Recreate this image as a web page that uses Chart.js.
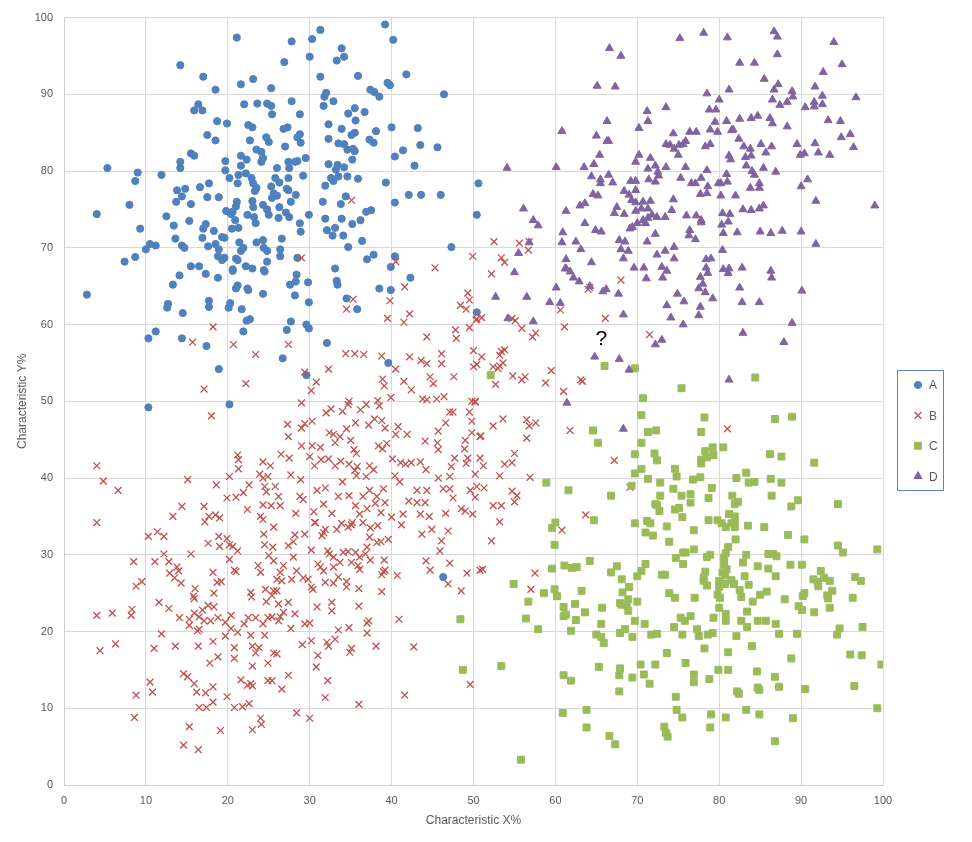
<!DOCTYPE html>
<html>
<head>
<meta charset="utf-8">
<title>Characteristic scatter</title>
<script src="https://cdn.jsdelivr.net/npm/chart.js@4.4.0/dist/chart.umd.min.js"></script>
<style>
  html, body { margin: 0; padding: 0; background: #fff; }
  #chart { display: block; }
</style>
</head>
<body>
<canvas id="chart" width="972" height="842"></canvas>
<script>
// values, [x%, y%]
var seriesNames = ['A', 'B', 'C', 'D'];
var xTicks = [0, 10, 20, 30, 40, 50, 60, 70, 80, 90, 100];
var yTicks = [0, 10, 20, 30, 40, 50, 60, 70, 80, 90, 100];
var questionMark = [65.6, 58.1];

var seriesA = [
  [21.1,97.4],[14.2,93.8],[17.0,92.3],[21.6,91.3],[23.1,92.0],[18.5,90.6],[25.3,90.8],[16.4,88.7],[15.9,87.9],[16.9,87.9],
  [22.0,88.7],[23.6,88.8],[24.8,88.8],[25.3,88.5],[25.4,87.4],[18.7,86.5],[19.9,86.2],[22.5,86.0],[23.0,85.7],[17.5,84.7],
  [18.5,84.0],[22.7,84.0],[24.7,84.4],[25.0,83.8],[15.5,82.3],[15.9,82.0],[23.5,82.8],[24.1,82.5],[24.3,81.7],[24.1,81.2],
  [21.6,82.0],[22.3,81.5],[21.6,80.7],[19.7,81.3],[14.2,81.2],[14.2,80.4],[5.3,80.4],[9.0,79.8],[8.7,78.7],[11.9,79.5],
  [19.7,80.1],[20.2,79.1],[21.3,79.5],[22.2,79.7],[22.9,79.1],[23.1,78.4],[23.5,77.8],[23.3,77.4],[25.3,78.0],[21.2,78.4],
  [17.7,78.4],[16.6,77.9],[13.8,77.5],[14.8,77.7],[14.4,76.7],[13.7,76.0],[15.5,75.7],[17.5,76.6],[18.9,76.6],[21.1,76.0],
  [21.0,75.4],[23.0,76.1],[23.1,75.3],[24.3,75.6],[8.0,75.6],[4.0,74.4],[19.8,74.8],[20.4,74.4],[20.6,74.7],[22.4,74.3],
  [23.2,74.0],[23.4,73.2],[24.8,75.0],[25.0,74.3],[12.5,74.1],[13.4,72.9],[15.3,73.5],[17.3,73.1],[17.0,72.5],[20.9,73.6],
  [18.3,72.2],[20.5,72.5],[21.3,72.6],[9.3,72.5],[19.3,71.4],[19.6,71.3],[16.9,71.3],[13.6,71.2],[10.5,70.5],[11.2,70.3],
  [10.0,69.8],[14.4,70.3],[14.7,70.0],[17.6,70.2],[18.5,70.5],[18.9,69.8],[21.4,70.7],[21.9,70.0],[21.6,69.6],[23.5,70.7],
  [24.3,71.0],[24.4,70.0],[24.8,69.6],[7.4,68.2],[8.7,68.8],[18.8,68.9],[19.3,68.4],[19.6,68.7],[21.0,68.6],[21.2,68.4],
  [24.8,68.2],[15.5,67.6],[16.5,67.6],[20.6,67.2],[22.2,67.6],[23.0,67.3],[24.4,67.1],
  [39.2,99.1],[31.3,98.4],[27.8,96.9],[30.3,97.2],[40.2,97.1],[33.9,96.0],[34.2,94.9],[33.3,94.4],[30.0,94.9],[26.9,94.2],
  [31.3,92.3],[35.9,92.4],[41.8,92.6],[39.5,91.5],[39.8,91.2],[37.4,90.6],[37.9,90.3],[38.5,89.7],[46.4,90.0],[32.0,90.2],
  [31.8,89.7],[31.7,88.5],[32.9,89.1],[27.8,89.1],[28.8,87.4],[34.7,87.5],[35.5,88.2],[36.7,87.7],[35.6,86.6],[32.3,86.1],
  [33.9,85.5],[26.8,85.5],[27.3,85.7],[28.8,84.8],[28.5,84.4],[28.9,83.7],[35.1,84.7],[35.5,85.0],[38.1,85.2],[40.0,85.7],
  [43.2,85.6],[32.3,84.2],[37.3,84.1],[37.8,83.7],[33.5,83.6],[34.2,83.5],[34.6,82.8],[35.3,82.9],[35.5,82.6],[27.0,83.2],
  [43.5,83.4],[45.6,83.1],[41.4,82.7],[40.4,81.9],[42.8,80.7],[29.5,81.7],[27.4,81.2],[28.2,81.2],[28.5,81.3],[27.5,80.4],
  [26.0,80.4],[32.3,80.9],[33.4,80.8],[33.2,80.2],[34.2,80.5],[35.2,81.5],[25.8,79.1],[26.3,78.5],[27.4,79.1],[29.2,79.4],
  [32.6,79.1],[32.9,78.7],[33.5,79.3],[34.6,79.3],[35.9,79.0],[31.9,78.1],[39.3,78.5],[50.6,78.4],[25.6,77.1],[26.0,76.8],
  [25.4,76.5],[27.2,77.7],[27.4,77.5],[28.3,76.9],[34.4,76.7],[42.1,76.9],[43.6,76.9],[46.0,76.9],[27.7,76.0],[31.6,76.0],
  [33.8,75.7],[40.4,75.9],[26.3,75.3],[27.1,74.6],[27.5,74.0],[26.2,73.9],[29.9,74.3],[36.9,74.7],[37.5,74.9],[50.4,74.3],
  [31.9,73.8],[33.9,73.8],[36.2,73.6],[35.2,73.1],[28.8,73.2],[28.9,72.1],[32.1,72.3],[33.1,72.6],[32.8,71.6],[34.1,71.6],
  [26.6,71.2],[36.4,70.9],[34.7,70.1],[47.3,70.1],[26.4,69.8],[26.4,68.9],[28.5,68.7],[37.0,68.5],[37.8,69.1],[40.4,68.9],
  [39.9,67.5],
  [14.1,66.4],[17.3,66.6],[18.8,66.1],[20.6,67.0],[24.5,66.9],[13.3,65.2],[2.8,63.9],[21.2,65.1],[21.0,64.7],[22.4,64.7],
  [22.5,64.5],[24.3,64.0],[17.7,63.1],[17.7,62.3],[12.7,62.7],[12.6,62.2],[20.3,62.8],[20.1,62.2],[21.7,62.0],[14.5,61.5],
  [22.3,60.5],[22.7,60.7],[21.9,59.1],[11.2,59.1],[10.3,58.2],[14.4,58.2],[17.4,57.2],[18.9,54.2],[10.3,49.2],[20.2,49.6],
  [28.4,66.5],[27.6,65.2],[28.3,65.6],[29.8,65.5],[28.2,63.8],[29.9,62.9],[33.1,67.3],[33.3,65.7],[33.4,65.2],[42.3,66.1],
  [38.5,64.7],[39.9,64.5],[34.5,63.4],[35.8,62.0],[27.7,60.4],[27.2,59.3],[29.6,60.0],[29.9,59.5],[32.1,57.6],[26.7,55.6],
  [39.6,55.0],[29.6,53.4],[50.4,61.6],[46.3,27.1]
];

var seriesB = [
  [35.1,76.2],[29.0,68.7],[40.5,68.2],[45.3,67.4],[49.9,68.9],[52.5,70.8],[55.6,70.6],[56.7,69.7],[56.8,70.8],[53.4,68.7],
  [53.8,68.1],
  [18.2,59.7],[15.7,57.7],[20.7,57.4],[23.4,56.1],[17.1,51.6],[22.2,52.3],[18.0,48.1],[21.2,43.0],[21.3,42.4],[21.3,41.2],
  [24.3,42.1],[25.2,41.6],[4.0,41.6],[4.8,39.6],[6.6,38.4],[15.1,39.8],[20.2,40.2],[18.6,39.1],[23.9,40.5],[24.3,40.0],
  [24.9,40.2],[22.6,39.1],[24.5,38.9],[24.7,38.2],[21.9,38.1],[19.9,37.4],[21.0,37.5],[14.4,36.3],[17.1,36.3],[22.4,35.9],
  [24.3,36.5],[25.3,36.4],[13.3,35.0],[4.0,34.2],[17.7,35.0],[18.5,35.2],[19.0,34.8],[17.2,34.3],[24.0,35.0],[24.3,34.6],
  [41.6,64.9],[39.8,63.1],[35.3,63.3],[34.5,62.0],[42.2,61.4],[41.5,60.3],[39.5,60.8],[49.3,64.1],[49.5,63.2],[48.4,62.5],
  [49.1,62.0],[50.3,60.6],[49.5,59.6],[47.8,59.3],[47.9,58.2],[44.3,58.4],[27.4,57.4],[34.4,56.2],[35.5,56.2],[36.6,56.1],
  [38.8,55.9],[42.2,55.8],[43.6,55.3],[44.3,54.9],[46.1,56.2],[46.1,54.9],[50.0,56.6],[50.0,54.5],[32.3,54.2],[29.4,53.8],
  [30.8,52.5],[30.2,51.4],[40.5,54.2],[38.9,52.9],[39.1,52.0],[41.5,52.6],[42.4,51.5],[44.7,53.2],[45.1,52.3],[47.6,53.2],
  [39.9,50.5],[43.8,50.3],[44.3,50.2],[45.5,50.3],[46.4,50.6],[49.8,50.0],[50.2,50.0],[29.0,49.8],[34.8,50.0],[34.7,49.6],
  [36.2,48.9],[36.9,49.6],[38.3,50.1],[38.5,49.4],[37.9,47.7],[38.8,47.5],[39.2,46.5],[32.6,49.0],[32.0,48.5],[34.0,48.7],
  [30.3,47.4],[29.4,47.1],[27.3,47.0],[29.0,46.5],[27.4,45.4],[35.6,47.2],[37.2,46.9],[34.5,46.4],[32.4,45.9],[32.9,45.7],
  [33.7,45.4],[35.0,44.9],[33.1,44.6],[40.8,46.7],[40.5,45.7],[41.9,45.7],[47.1,48.6],[47.5,48.6],[49.5,48.6],[49.8,47.4],
  [46.6,47.2],[45.7,46.1],[49.8,45.9],[50.9,45.5],[49.0,44.9],[44.1,44.8],[45.6,44.6],[45.7,43.7],[30.3,44.2],[31.3,44.0],
  [29.0,44.2],[30.0,42.8],[26.5,43.1],[27.5,42.6],[35.4,43.7],[35.7,43.2],[38.4,44.2],[38.9,43.8],[39.4,44.5],[48.9,43.8],
  [47.7,42.6],[49.3,42.6],[47.3,41.5],[49.1,41.9],[31.4,42.4],[32.3,42.5],[33.1,41.6],[33.8,42.2],[34.8,41.8],[35.8,41.5],
  [37.3,41.6],[37.8,41.1],[40.1,42.5],[41.1,42.0],[41.7,41.8],[42.4,42.0],[43.5,42.1],[30.6,41.6],[44.2,41.1],[45.7,40.0],
  [47.1,40.2],[50.2,40.5],[27.7,40.4],[28.9,39.8],[34.0,39.5],[35.7,40.3],[36.9,40.2],[35.5,41.0],[40.4,40.3],[41.0,39.5],
  [25.8,38.9],[26.2,37.6],[28.8,37.6],[29.2,37.2],[30.9,38.4],[31.9,38.7],[33.5,37.6],[34.8,37.7],[36.5,37.6],[37.3,38.4],
  [38.2,37.6],[39.0,38.6],[43.1,38.4],[44.3,38.4],[42.1,37.0],[43.1,36.8],[44.1,36.8],[46.3,38.6],[47.1,38.6],[47.5,37.4],
  [49.6,38.4],[26.4,36.4],[28.3,35.4],[30.5,35.6],[31.7,36.6],[32.7,35.4],[35.6,36.4],[36.1,35.3],[37.0,36.0],[38.0,36.7],
  [38.7,35.5],[39.2,36.8],[40.0,34.9],[41.4,35.3],[43.5,35.3],[44.6,35.0],[46.6,35.4],[48.5,36.0],[49.0,35.7],[49.9,35.3],
  [30.7,34.2],[35.2,34.2],
  [52.2,66.6],[68.0,65.8],[64.2,64.8],[64.0,64.6],[60.6,61.9],[66.1,60.8],[61.1,59.7],[51.0,60.9],[50.4,60.7],[55.1,60.5],
  [54.7,60.8],[55.9,59.5],[57.6,58.9],[57.2,58.4],[71.5,58.7],[51.0,55.8],[50.4,54.8],[53.4,56.5],[53.8,56.7],[53.2,56.0],
  [53.6,55.0],[52.4,54.5],[53.0,54.3],[53.2,54.6],[52.7,52.2],[54.8,53.3],[55.9,52.8],[56.3,53.2],[59.5,54.0],[58.8,52.4],
  [63.1,52.8],[63.3,52.6],[61.0,51.3],[50.2,49.9],[53.6,47.7],[52.4,46.8],[50.8,45.4],[56.5,47.6],[56.8,46.8],[57.6,47.2],
  [56.5,45.2],[61.8,46.2],[50.8,42.6],[51.2,41.6],[55.0,43.2],[53.8,41.8],[54.7,42.0],[67.2,42.3],[53.2,40.3],[56.9,40.1],
  [69.1,38.8],[50.4,38.9],[51.3,38.7],[50.2,37.5],[54.7,38.3],[55.3,37.7],[55.0,36.9],[52.4,36.4],[53.4,36.4],[53.2,34.3],
  [63.7,35.2],[81.0,46.4],
  [10.3,32.4],[11.4,33.0],[12.2,32.4],[18.9,32.4],[19.9,32.1],[19.0,31.1],[20.2,31.3],[20.6,31.1],[21.2,30.5],[17.6,31.5],
  [24.4,32.7],[24.5,31.3],[25.0,29.9],[8.5,29.1],[11.1,29.1],[12.2,30.1],[12.8,29.1],[15.5,30.1],[20.2,29.4],[13.8,28.4],
  [14.0,27.9],[12.9,27.6],[13.5,27.0],[14.3,26.3],[18.2,27.7],[20.8,28.0],[21.0,27.8],[23.7,28.6],[24.0,27.7],[9.5,26.5],
  [8.8,25.9],[18.7,26.4],[19.2,26.5],[18.3,25.0],[16.0,25.6],[15.8,24.6],[15.9,24.3],[22.8,25.1],[22.9,24.5],[24.6,25.5],
  [24.7,23.9],[11.6,23.8],[12.8,23.0],[4.0,22.1],[5.9,22.4],[8.3,22.9],[8.2,22.1],[16.9,22.8],[17.6,23.4],[18.3,23.2],
  [14.1,21.8],[15.3,21.6],[15.9,22.4],[16.5,21.9],[17.1,21.4],[17.9,21.4],[18.8,21.8],[20.4,22.1],[19.7,21.2],[20.4,20.4],
  [21.2,19.9],[22.5,21.8],[23.4,21.8],[22.0,21.0],[22.8,19.5],[24.3,21.0],[24.9,21.8],[24.5,19.5],[15.3,20.8],[16.3,20.1],
  [16.5,20.3],[11.9,19.7],[4.4,17.5],[6.3,18.4],[11.0,17.8],[13.6,18.1],[16.4,18.1],[18.2,18.7],[19.7,19.4],[20.8,17.9],
  [20.8,16.5],[23.0,18.1],[23.4,17.2],[23.8,17.9],[23.0,15.5],[24.9,15.9],[17.8,15.9],[18.8,16.7],[14.6,14.5],[15.1,14.1],
  [15.9,13.2],[16.2,12.1],[17.3,12.0],[18.2,12.8],[21.6,13.7],[22.4,13.0],[22.8,13.2],[23.0,12.9],[24.9,13.6],[10.5,13.4],
  [10.8,12.1],[8.8,11.7],[18.2,10.8],[19.9,11.5],[16.5,10.1],[17.4,10.1],[20.8,10.1],[21.8,10.2],[22.6,10.6],[8.6,8.8],
  [15.3,7.6],[19.1,7.1],[23.0,7.2],[24.0,8.7],[24.1,7.9],[14.6,5.2],[16.4,4.6],
  [25.6,33.6],[30.6,34.2],[31.9,33.3],[31.5,32.5],[31.7,32.9],[33.3,33.3],[33.9,34.1],[34.7,33.6],[35.1,33.9],[28.2,32.6],
  [28.0,31.7],[29.4,32.7],[27.4,31.2],[28.0,29.7],[36.5,34.2],[37.4,33.5],[38.3,33.8],[37.3,32.3],[38.2,31.6],[38.7,31.7],
  [39.6,32.0],[41.2,33.9],[37.0,31.0],[25.5,31.0],[30.2,30.6],[32.2,30.5],[32.4,30.1],[32.9,29.7],[34.1,30.3],[34.7,30.4],
  [35.6,30.3],[36.8,30.1],[37.4,29.3],[36.1,29.7],[39.1,29.3],[43.7,32.7],[44.9,33.3],[46.9,33.1],[46.1,31.8],[45.9,30.5],
  [44.2,29.2],[44.7,28.0],[47.1,28.9],[49.2,27.6],[50.8,28.0],[46.9,26.2],[48.5,25.3],[40.7,27.3],[39.0,27.8],[39.2,28.0],
  [38.8,27.4],[25.6,29.2],[26.8,28.6],[26.4,27.7],[26.0,26.8],[26.6,26.6],[28.4,27.9],[29.2,27.0],[29.8,26.8],[27.8,26.8],
  [31.0,28.8],[31.3,28.4],[31.7,27.9],[32.9,28.4],[33.7,29.0],[35.1,29.0],[35.9,28.6],[36.1,28.1],[30.4,25.5],[30.2,25.8],
  [31.9,26.4],[32.9,26.3],[33.5,27.1],[34.5,26.5],[34.5,25.8],[36.0,25.6],[38.8,25.2],[25.6,25.3],[26.0,25.3],[25.4,24.7],
  [26.2,23.6],[27.4,23.8],[26.8,22.5],[28.2,22.3],[25.4,21.9],[26.4,21.9],[26.2,21.4],[30.9,23.2],[32.7,23.8],[32.7,22.7],
  [36.0,23.3],[27.7,20.4],[29.4,21.0],[30.0,21.1],[33.5,20.2],[34.8,20.5],[37.0,21.1],[37.2,21.4],[37.0,19.8],[40.9,21.6],
  [25.6,17.2],[26.0,17.1],[29.1,18.3],[30.2,18.8],[32.1,18.6],[32.3,18.1],[33.1,19.0],[31.0,16.9],[30.8,15.4],[35.1,17.8],
  [34.9,17.3],[38.1,18.1],[42.7,18.0],[27.4,14.3],[25.4,13.6],[26.6,12.5],[32.2,13.6],[31.9,11.4],[36.0,10.5],[41.6,11.7],
  [49.6,13.1],[28.4,9.4],[30.0,8.7],
  [60.8,33.2],[52.2,31.8],[51.1,28.1],[57.5,27.6],[57.0,25.5]
];

var seriesC = [
  [52.1,53.4],[66.0,54.6],[69.7,54.3],[75.4,51.7],[70.7,50.4],[70.5,48.2],[64.6,46.2],[71.3,46.0],[72.3,46.2],[65.2,44.6],
  [70.5,44.6],[69.7,43.1],[72.1,43.2],[72.4,42.3],[70.5,41.2],[69.7,40.6],[71.3,39.9],[74.6,41.2],[74.8,40.2],[58.9,39.4],
  [61.6,38.4],[66.8,37.7],[69.3,39.0],[72.8,39.4],[72.8,37.7],[72.2,36.6],[72.4,36.5],[72.7,35.7],[74.4,38.6],[75.4,37.7],
  [74.6,35.9],[75.1,36.1],[60.0,34.2],[64.7,34.5],[69.7,34.1],[71.2,34.4],[71.6,34.1],
  [84.4,53.1],[78.2,47.9],[77.8,46.0],[86.8,47.7],[88.9,48.0],[79.2,44.0],[80.5,44.0],[78.3,43.5],[78.5,42.7],[79.3,43.0],
  [77.8,42.4],[77.8,41.9],[86.2,43.1],[87.6,42.8],[91.6,42.0],[76.8,39.8],[77.7,40.1],[82.1,40.0],[83.3,40.7],[83.6,39.4],
  [84.3,39.5],[86.3,39.9],[87.6,39.4],[79.1,38.7],[76.5,37.9],[78.7,37.4],[81.6,37.7],[81.9,36.6],[82.3,36.9],[86.4,37.7],
  [89.6,37.1],[88.8,36.3],[94.5,36.6],[75.5,34.9],[76.5,36.8],[78.7,34.5],[79.8,34.5],[81.2,35.3],[81.9,35.0],
  [48.4,21.6],[48.7,15.0],
  [59.6,33.5],[59.9,31.3],[73.6,33.7],[71.0,32.9],[71.9,32.5],[73.9,31.7],[74.7,29.6],[75.6,30.3],[75.6,28.8],[64.2,29.2],
  [59.6,28.2],[61.1,28.6],[62.0,28.3],[62.6,28.4],[67.5,28.5],[66.8,27.7],[71.0,28.8],[70.5,27.9],[70.0,27.2],[73.0,27.4],
  [73.4,27.4],[54.9,26.2],[58.6,25.0],[59.9,25.5],[60.2,24.6],[63.2,25.3],[68.1,26.8],[69.0,25.8],[68.2,25.1],[68.9,24.2],
  [67.9,23.7],[68.1,23.5],[73.9,25.0],[74.6,24.4],[70.0,23.9],[56.7,23.9],[61.0,23.2],[62.4,23.6],[65.7,23.1],[68.7,23.4],
  [68.9,22.7],[56.4,21.7],[61.0,22.0],[61.3,22.2],[62.5,21.5],[63.6,22.5],[65.6,21.0],[69.7,21.4],[70.9,21.0],[75.3,21.8],
  [75.8,21.4],[74.5,20.6],[57.9,20.3],[61.9,20.1],[67.9,19.8],[68.5,20.3],[69.4,19.3],[71.7,19.6],[72.4,19.7],[65.0,19.6],
  [65.6,19.3],[65.9,18.5],[75.5,19.6],[73.6,17.2],[53.4,15.5],[65.3,15.4],[67.9,15.2],[67.8,14.3],[69.4,14.0],[70.4,15.7],
  [70.8,14.4],[72.2,15.7],[71.5,13.2],[61.0,14.3],[61.9,13.6],[67.8,12.2],[74.7,11.5],[74.8,9.8],[75.5,8.8],[60.9,9.4],
  [63.8,9.8],[63.8,7.5],[73.3,7.6],[73.5,6.8],[73.7,6.3],[66.6,6.4],[67.3,5.3],[55.8,3.3],
  [76.9,33.2],[80.3,34.1],[80.8,33.6],[81.5,34.1],[81.9,34.2],[81.9,33.6],[83.5,33.8],[85.5,33.6],[82.0,32.0],[88.4,32.6],
  [90.4,32.0],[94.5,31.2],[95.1,30.3],[99.3,30.7],[76.9,30.7],[75.9,30.3],[78.5,29.7],[78.9,30.0],[80.6,29.6],[80.8,30.2],
  [81.1,31.0],[83.3,30.0],[86.0,30.1],[86.6,30.1],[87.0,29.8],[80.6,28.7],[80.9,28.1],[80.4,27.7],[80.7,27.3],[82.9,29.0],
  [84.7,28.5],[86.0,28.2],[88.7,28.7],[90.1,28.7],[78.3,27.8],[78.1,27.0],[78.1,26.6],[78.5,26.0],[83.1,27.2],[83.6,26.1],
  [86.9,27.2],[92.4,27.9],[91.5,26.8],[92.0,26.5],[92.1,25.9],[92.8,27.0],[93.5,26.6],[93.8,25.3],[96.6,27.1],[97.3,26.6],
  [80.0,26.6],[80.0,25.8],[79.8,24.8],[80.1,24.4],[80.7,26.2],[81.5,26.7],[81.8,26.2],[82.5,25.4],[82.7,24.5],[77.0,24.4],
  [84.1,23.9],[85.0,24.8],[85.8,25.2],[88.0,24.2],[90.4,25.0],[90.2,24.6],[89.7,23.3],[90.1,22.8],[93.2,24.7],[93.3,24.3],
  [96.3,24.4],[91.6,22.5],[93.5,23.1],[80.0,23.1],[80.8,22.3],[80.8,21.4],[83.4,22.6],[79.3,21.8],[76.5,22.0],[82.7,21.4],
  [83.4,20.6],[84.7,21.4],[85.7,21.4],[86.9,21.0],[94.7,20.4],[94.4,19.6],[97.5,20.6],[77.3,20.3],[77.5,19.4],[78.6,19.6],
  [79.2,19.8],[82.1,19.4],[87.3,19.7],[89.5,19.7],[78.2,17.8],[81.1,17.3],[84.0,18.1],[88.8,16.5],[96.0,17.0],[97.4,16.9],
  [99.8,15.7],[75.9,15.9],[76.9,14.4],[76.9,13.4],[78.8,13.8],[79.9,15.0],[81.1,15.0],[84.6,14.8],[86.8,14.1],[82.2,12.2],
  [82.4,11.9],[84.7,12.7],[84.9,12.4],[87.3,12.8],[90.5,12.5],[96.5,12.9],[79.0,9.2],[80.8,8.8],[83.3,9.8],[84.9,9.2],
  [89.0,8.7],[78.9,7.5],[86.8,5.7],[99.3,10.0]
];

var seriesD = [
  [66.6,96.0],[68.0,95.0],[65.1,91.1],[67.3,91.0],[75.2,97.3],[71.2,87.8],[73.5,88.3],[71.3,86.5],[70.2,85.6],[66.3,86.5],
  [60.8,85.2],[65.0,84.6],[66.3,83.9],[66.5,83.9],[74.4,84.9],[73.5,83.5],[74.0,83.4],[74.5,82.9],[75.1,83.4],[75.0,82.1],
  [75.6,83.5],[65.4,82.1],[70.2,82.1],[69.8,81.2],[71.6,81.7],[72.2,80.7],[72.5,79.9],[71.3,80.3],[73.5,80.5],[54.1,80.4],
  [60.1,80.5],[63.5,80.5],[64.7,80.9],[64.4,79.3],[65.5,78.9],[65.5,78.4],[66.5,79.5],[67.0,78.5],[69.2,78.7],[69.8,78.7],
  [72.2,78.6],[71.4,78.9],[72.6,79.4],[75.3,79.1],[68.4,77.4],[69.0,76.9],[69.8,77.5],[69.3,76.2],[69.8,75.9],[64.6,77.0],
  [65.2,76.8],[63.0,75.5],[63.6,75.8],[70.7,76.0],[71.6,76.1],[71.3,75.1],[71.8,74.3],[72.4,74.0],[71.3,73.9],[74.4,76.3],
  [74.2,74.9],[73.4,74.0],[67.5,75.3],[67.2,74.5],[68.4,74.4],[69.8,74.8],[70.5,75.1],[56.1,75.1],[61.3,74.8],[57.3,73.6],
  [57.9,72.9],[63.6,73.2],[69.1,72.5],[69.4,72.7],[70.0,73.2],[71.0,73.2],[70.7,73.6],[64.9,72.3],[65.6,72.1],[60.9,72.0],
  [60.8,70.7],[62.5,70.8],[67.8,71.0],[68.5,70.8],[72.2,71.8],[71.2,70.8],[73.4,69.6],[74.5,70.1],[56.8,70.7],[55.5,69.3],
  [63.1,69.8],[68.0,69.8],[68.9,69.6],[68.3,68.6],[61.3,68.5],[61.3,67.3],[64.4,68.1],[72.4,69.1],[74.5,68.6],[69.6,67.4],
  [70.8,67.4],[73.0,67.5],
  [78.1,98.0],[81.0,97.4],[86.7,98.2],[87.1,97.5],[94.0,96.8],[87.1,95.2],[82.5,94.1],[84.3,94.1],[95.0,93.9],[92.7,92.9],
  [85.5,92.0],[81.2,90.6],[87.2,91.3],[86.7,90.6],[88.9,90.4],[89.0,89.7],[91.7,91.0],[78.5,90.1],[80.0,89.3],[86.5,89.3],
  [87.4,88.6],[88.3,89.0],[90.5,88.3],[91.6,89.0],[91.6,88.4],[92.6,89.8],[92.6,88.7],[96.7,89.6],[78.8,88.0],[79.6,88.0],
  [79.5,86.4],[80.9,86.5],[82.5,86.8],[83.9,86.9],[84.7,87.2],[86.2,86.9],[86.5,86.2],[88.3,85.8],[93.3,86.6],[94.8,86.5],
  [76.4,85.1],[77.2,85.1],[78.9,85.4],[79.8,85.1],[81.5,85.3],[81.7,85.4],[75.9,83.9],[78.3,83.2],[78.9,83.5],[82.4,84.2],
  [83.0,83.2],[83.8,82.9],[83.9,82.0],[85.1,83.5],[86.4,83.2],[85.7,82.4],[81.2,82.0],[81.4,81.5],[83.2,81.8],[89.5,83.5],
  [91.7,83.6],[94.9,84.4],[96.0,84.8],[96.4,83.1],[89.9,82.1],[90.4,82.3],[92.1,82.4],[93.5,82.1],[75.9,80.5],[78.5,80.1],
  [80.9,79.6],[81.0,78.6],[83.3,80.7],[84.0,80.0],[84.3,79.5],[85.4,80.4],[86.9,79.9],[76.6,78.4],[77.1,78.4],[77.8,79.1],
  [78.6,78.0],[79.9,78.4],[80.2,78.4],[77.7,77.0],[78.5,77.1],[80.2,76.8],[82.0,76.8],[83.8,77.8],[84.9,78.4],[84.9,77.8],
  [90.0,78.0],[90.8,78.9],[91.8,76.1],[99.0,75.5],[76.0,74.2],[77.2,74.2],[77.8,73.6],[77.8,73.3],[80.4,74.5],[81.3,74.4],
  [81.1,73.4],[80.3,73.0],[80.5,71.9],[82.2,72.0],[82.9,75.0],[83.9,74.9],[84.9,75.1],[85.4,75.5],[76.4,72.3],[76.3,71.6],
  [77.1,71.1],[85.0,72.1],[86.3,71.9],[87.7,72.2],[90.0,72.1],[91.8,70.5],[80.4,69.7],[78.4,68.5],[79.0,68.6],
  [55.0,66.8],[61.2,67.3],[61.8,66.9],[62.2,66.1],[62.9,65.6],[60.1,64.8],[64.2,65.0],[65.8,64.3],[66.2,64.6],[67.7,64.0],
  [71.1,66.0],[73.6,67.0],[73.1,66.1],[74.9,64.0],[73.6,62.5],[74.1,60.9],[75.6,60.0],[52.7,63.6],[56.5,63.6],[59.3,62.9],
  [60.6,62.8],[54.2,60.8],[57.3,60.4],[68.3,61.3],[73.0,58.0],[72.2,57.4],[64.8,55.8],[67.8,55.5],[69.0,54.1],[61.4,49.8],
  [68.3,46.4],
  [78.4,67.4],[78.6,66.7],[77.7,66.2],[77.5,64.7],[78.0,65.3],[78.3,64.2],[79.2,63.4],[80.5,67.2],[81.2,67.3],[81.1,66.7],
  [82.8,67.4],[86.3,67.0],[86.4,66.1],[82.5,64.8],[82.8,62.9],[84.9,62.9],[90.1,64.4],[75.7,63.0],[77.7,62.3],[77.5,61.2],
  [88.9,60.2],[82.9,58.9],[87.9,57.7],[81.2,52.8]
];

var seriesColors = ['#4F81BD', '#C0504D', '#9BBB59', '#8064A2'];
var seriesStyles = ['circle', 'crossRot', 'rect', 'triangle'];
var seriesRadius = [3.6, 4.8, 4.9, 4.6];
var seriesBorder = [1, 1.3, 1, 1];

function toPoints(list) {
  return list.map(function(p) { return { x: p[0], y: p[1] }; });
}

var allSeries = [seriesA, seriesB, seriesC, seriesD];
var datasets = allSeries.map(function(list, i) {
  return {
    label: seriesNames[i],
    data: toPoints(list),
    pointStyle: seriesStyles[i],
    pointRadius: seriesRadius[i],
    pointHoverRadius: seriesRadius[i],
    pointBorderWidth: seriesBorder[i],
    backgroundColor: seriesColors[i],
    borderColor: seriesColors[i],
    order: 4 - i
  };
});

// legend drawn in a bordered box like the Excel original
var legendBox = {
  id: 'legendBox',
  afterDraw: function(chart) {
    var ctx = chart.ctx;
    var left = chart.chartArea.right + 14;
    var top = 370, w = 46, h = 120, step = 30.4;
    ctx.save();
    ctx.strokeStyle = '#5b84c4';
    ctx.lineWidth = 1;
    ctx.strokeRect(left + 0.5, top + 0.5, w, h);
    ctx.font = '12px "Liberation Sans", Arial, sans-serif';
    ctx.textBaseline = 'middle';
    ctx.textAlign = 'left';
    chart.data.datasets.forEach(function(ds, i) {
      var cy = top + 15 + i * step;
      ctx.fillStyle = ds.backgroundColor;
      ctx.strokeStyle = ds.borderColor;
      ctx.lineWidth = ds.pointBorderWidth;
      Chart.helpers.drawPoint(ctx, {
        pointStyle: ds.pointStyle, radius: ds.pointRadius, borderWidth: ds.pointBorderWidth, rotation: 0
      }, left + 21, cy);
      ctx.fillStyle = '#595959';
      ctx.fillText(ds.label, left + 32, cy + 1);
    });
    ctx.restore();
  }
};

// the "?" note placed through the scales
var questionNote = {
  id: 'questionNote',
  afterDatasetsDraw: function(chart) {
    var ctx = chart.ctx;
    var px = chart.scales.x.getPixelForValue(questionMark[0]);
    var py = chart.scales.y.getPixelForValue(questionMark[1]);
    ctx.save();
    ctx.font = '21px "Liberation Sans", Arial, sans-serif';
    ctx.fillStyle = '#000000';
    ctx.textAlign = 'center';
    ctx.textBaseline = 'middle';
    ctx.fillText('?', px, py);
    ctx.restore();
  }
};

Chart.defaults.font.family = '"Liberation Sans", Arial, sans-serif';
Chart.defaults.color = '#595959';

new Chart(document.getElementById('chart').getContext('2d'), {
  type: 'scatter',
  data: { datasets: datasets },
  options: {
    responsive: false,
    animation: false,
    devicePixelRatio: 1,
    layout: { padding: { left: 0, top: 15, right: 89, bottom: 0 } },
    plugins: {
      legend: { display: false },
      tooltip: { enabled: false }
    },
    scales: {
      x: {
        type: 'linear',
        min: xTicks[0],
        max: xTicks[xTicks.length - 1],
        afterBuildTicks: function(s) { s.ticks = xTicks.map(function(v) { return { value: v }; }); },
        afterFit: function(s) { s.height = 57; },
        grid: { color: '#d9d9d9', drawTicks: false },
        border: { color: '#d0d0d0' },
        ticks: { padding: 9, font: { size: 11 }, color: '#595959' },
        title: { display: true, text: 'Characteristic X%', font: { size: 12 }, color: '#595959', padding: { top: 0, bottom: 14 } }
      },
      y: {
        type: 'linear',
        min: yTicks[0],
        max: yTicks[yTicks.length - 1],
        afterBuildTicks: function(s) { s.ticks = yTicks.map(function(v) { return { value: v }; }); },
        afterFit: function(s) { s.width = 64; },
        grid: { color: '#d9d9d9', drawTicks: false },
        border: { color: '#d0d0d0' },
        ticks: { padding: 11, font: { size: 11 }, color: '#595959' },
        title: { display: true, text: 'Characteristic Y%', font: { size: 12 }, color: '#595959', padding: { top: 15, bottom: 0 } }
      }
    }
  },
  plugins: [legendBox, questionNote]
});
</script>
</body>
</html>
